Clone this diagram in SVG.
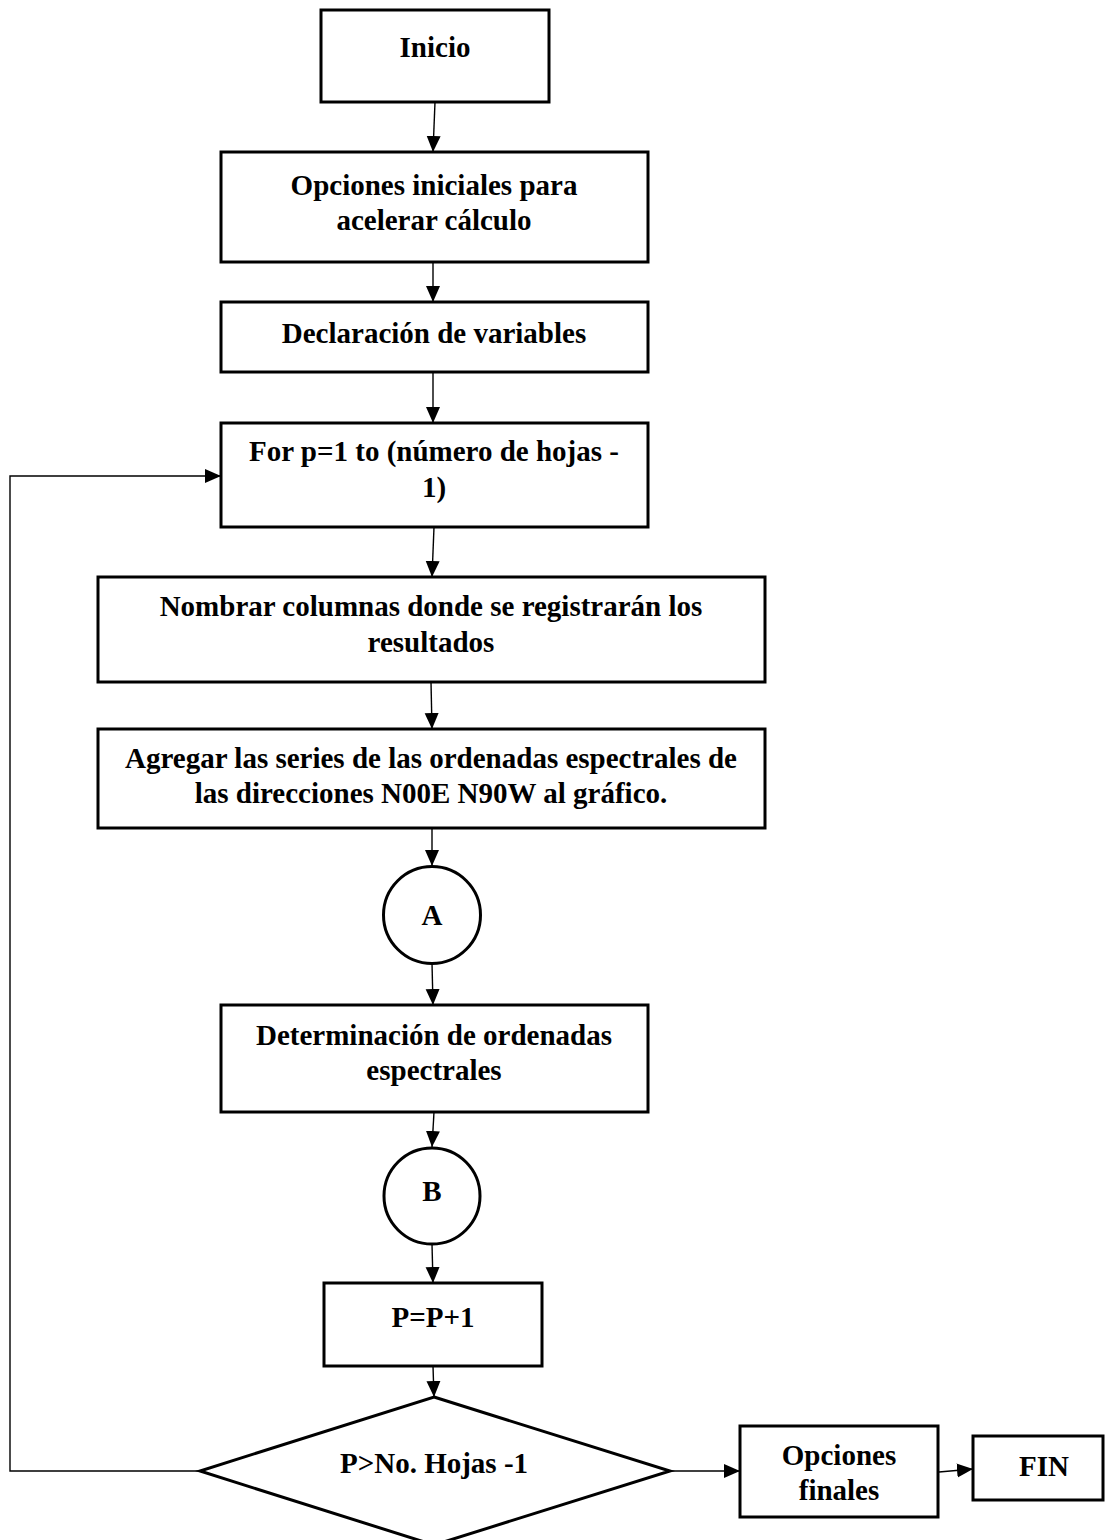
<svg xmlns="http://www.w3.org/2000/svg" width="1110" height="1540" viewBox="0 0 1110 1540">
<style>
.box{fill:#fff;stroke:#000;stroke-width:3}
.t{font-family:"Liberation Serif","Times New Roman",serif;font-weight:bold;font-size:29px;fill:#000;text-anchor:middle}
.c{fill:none;stroke:#000;stroke-width:1.4}
</style>
<defs>
<marker id="ah" markerUnits="userSpaceOnUse" markerWidth="17" markerHeight="16" refX="16" refY="8" orient="auto">
<path d="M0,1 L16,8 L0,15 z" fill="#000"/>
</marker>
</defs>
<rect width="1110" height="1540" fill="#fff"/>
<g id="connectors">
<line class="c" x1="435" y1="102" x2="433" y2="152" marker-end="url(#ah)"/>
<line class="c" x1="433" y1="262" x2="433" y2="302" marker-end="url(#ah)"/>
<line class="c" x1="433" y1="372" x2="433" y2="423" marker-end="url(#ah)"/>
<line class="c" x1="434" y1="527" x2="432" y2="577" marker-end="url(#ah)"/>
<line class="c" x1="431" y1="682" x2="432" y2="729" marker-end="url(#ah)"/>
<line class="c" x1="432" y1="828" x2="432" y2="866" marker-end="url(#ah)"/>
<line class="c" x1="432" y1="963" x2="433" y2="1005" marker-end="url(#ah)"/>
<line class="c" x1="434" y1="1112" x2="432" y2="1147" marker-end="url(#ah)"/>
<line class="c" x1="432" y1="1244" x2="433" y2="1283" marker-end="url(#ah)"/>
<line class="c" x1="433" y1="1366" x2="434" y2="1397" marker-end="url(#ah)"/>
<polyline class="c" points="200,1471 10,1471 10,476 221,476" marker-end="url(#ah)"/>
<line class="c" x1="670" y1="1471" x2="740" y2="1471" marker-end="url(#ah)"/>
<line class="c" x1="939" y1="1472" x2="973" y2="1469" marker-end="url(#ah)"/>
</g>
<g id="inicio"><rect class="box" x="321" y="10" width="228" height="92"/><text class="t" x="435" y="57">Inicio</text></g>
<g id="opciones-iniciales"><rect class="box" x="221" y="152" width="427" height="110"/><text class="t" x="434" y="195">Opciones iniciales para</text><text class="t" x="434" y="230">acelerar cálculo</text></g>
<g id="declaracion"><rect class="box" x="221" y="302" width="427" height="70"/><text class="t" x="434" y="343">Declaración de variables</text></g>
<g id="for"><rect class="box" x="221" y="423" width="427" height="104"/><text class="t" x="434" y="461">For p=1 to (número de hojas -</text><text class="t" x="434" y="497">1)</text></g>
<g id="nombrar"><rect class="box" x="98" y="577" width="667" height="105"/><text class="t" x="431" y="616">Nombrar columnas donde se registrarán los</text><text class="t" x="431" y="652">resultados</text></g>
<g id="agregar"><rect class="box" x="98" y="729" width="667" height="99"/><text class="t" x="431" y="768">Agregar las series de las ordenadas espectrales de</text><text class="t" x="431" y="803">las direcciones N00E N90W al gráfico.</text></g>
<g id="conector-a"><circle class="box" cx="432" cy="915" r="48.5"/><text class="t" x="432" y="925">A</text></g>
<g id="determinacion"><rect class="box" x="221" y="1005" width="427" height="107"/><text class="t" x="434" y="1045">Determinación de ordenadas</text><text class="t" x="434" y="1080">espectrales</text></g>
<g id="conector-b"><circle class="box" cx="432" cy="1196" r="48"/><text class="t" x="432" y="1201">B</text></g>
<g id="incremento"><rect class="box" x="324" y="1283" width="218" height="83"/><text class="t" x="433" y="1327">P=P+1</text></g>
<g id="decision"><polygon class="box" points="434,1397 670,1471 434,1545 200,1471"/><text class="t" x="434" y="1473">P&gt;No. Hojas -1</text></g>
<g id="opciones-finales"><rect class="box" x="740" y="1426" width="198" height="91"/><text class="t" x="839" y="1465">Opciones</text><text class="t" x="839" y="1500">finales</text></g>
<g id="fin"><rect class="box" x="973" y="1436" width="130" height="64"/><text class="t" x="1044" y="1476">FIN</text></g>
</svg>
